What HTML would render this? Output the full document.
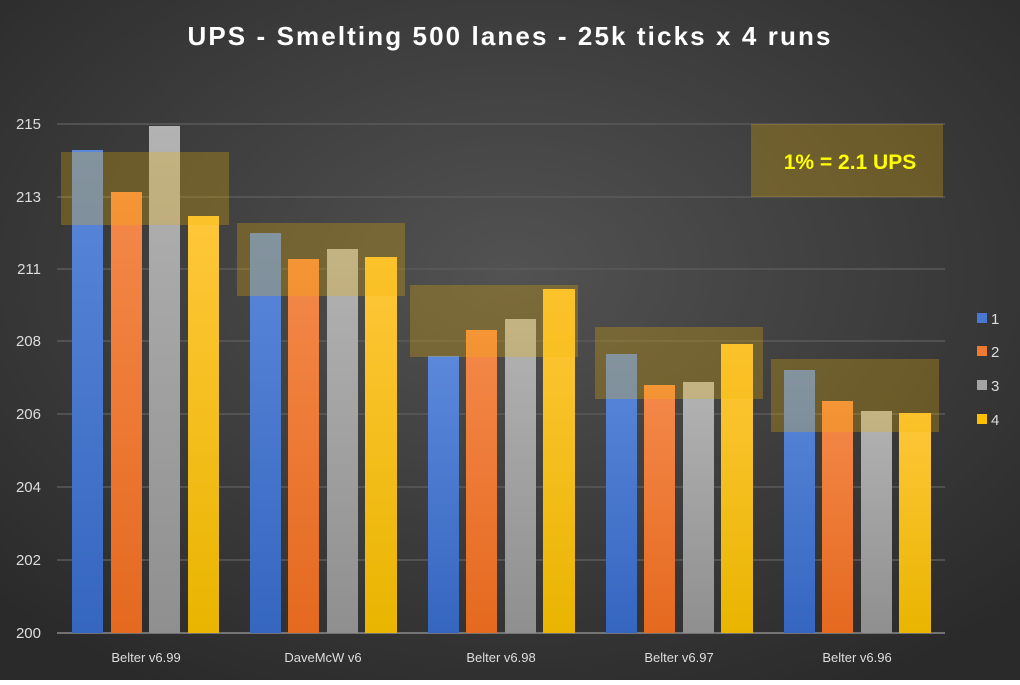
<!DOCTYPE html><html><head><style>body{margin:0;width:1020px;height:680px;overflow:hidden}</style></head><body>
<svg width="1020" height="680" xmlns="http://www.w3.org/2000/svg" font-family="Liberation Sans, sans-serif">
<defs>
<radialGradient id="bg" cx="50%" cy="40%" r="70%"><stop offset="0" stop-color="#525252"/><stop offset="1" stop-color="#2a2a2a"/></radialGradient>
<linearGradient id="b" x1="0" y1="0" x2="0" y2="1"><stop offset="0" stop-color="#5b88da"/><stop offset="1" stop-color="#3566c0"/></linearGradient>
<linearGradient id="o" x1="0" y1="0" x2="0" y2="1"><stop offset="0" stop-color="#f4894a"/><stop offset="1" stop-color="#e5691f"/></linearGradient>
<linearGradient id="g" x1="0" y1="0" x2="0" y2="1"><stop offset="0" stop-color="#b3b3b3"/><stop offset="1" stop-color="#8f8f8f"/></linearGradient>
<linearGradient id="y" x1="0" y1="0" x2="0" y2="1"><stop offset="0" stop-color="#ffc73a"/><stop offset="1" stop-color="#e9b500"/></linearGradient>
</defs>
<rect width="1020" height="680" fill="url(#bg)"/>
<text x="510" y="45" fill="#fff" font-size="26" font-weight="bold" text-anchor="middle" letter-spacing="2.1">UPS - Smelting 500 lanes - 25k ticks x 4 runs</text>
<g stroke="#5a5a5a" stroke-width="1.5">
<line x1="57" x2="945" y1="124" y2="124"/><line x1="57" x2="945" y1="197" y2="197"/><line x1="57" x2="945" y1="269" y2="269"/><line x1="57" x2="945" y1="341" y2="341"/><line x1="57" x2="945" y1="414" y2="414"/><line x1="57" x2="945" y1="487" y2="487"/><line x1="57" x2="945" y1="560" y2="560"/>
</g>
<line x1="57" x2="945" y1="633" y2="633" stroke="#8a8a8a" stroke-width="1.5"/>
<g fill="#ddd" font-size="15" text-anchor="end">
<text x="41" y="129">215</text><text x="41" y="202">213</text><text x="41" y="274">211</text><text x="41" y="346">208</text><text x="41" y="419">206</text><text x="41" y="492">204</text><text x="41" y="565">202</text><text x="41" y="638">200</text>
</g>
<g>
<rect x="72" y="150" width="31" height="483" fill="url(#b)"/><rect x="111" y="192" width="31" height="441" fill="url(#o)"/><rect x="149" y="126" width="31" height="507" fill="url(#g)"/><rect x="188" y="216" width="31" height="417" fill="url(#y)"/>
<rect x="250" y="233" width="31" height="400" fill="url(#b)"/><rect x="288" y="259" width="31" height="374" fill="url(#o)"/><rect x="327" y="249" width="31" height="384" fill="url(#g)"/><rect x="365" y="257" width="32" height="376" fill="url(#y)"/>
<rect x="428" y="356" width="31" height="277" fill="url(#b)"/><rect x="466" y="330" width="31" height="303" fill="url(#o)"/><rect x="505" y="319" width="31" height="314" fill="url(#g)"/><rect x="543" y="289" width="32" height="344" fill="url(#y)"/>
<rect x="606" y="354" width="31" height="279" fill="url(#b)"/><rect x="644" y="385" width="31" height="248" fill="url(#o)"/><rect x="683" y="382" width="31" height="251" fill="url(#g)"/><rect x="721" y="344" width="32" height="289" fill="url(#y)"/>
<rect x="784" y="370" width="31" height="263" fill="url(#b)"/><rect x="822" y="401" width="31" height="232" fill="url(#o)"/><rect x="861" y="411" width="31" height="222" fill="url(#g)"/><rect x="899" y="413" width="32" height="220" fill="url(#y)"/>
</g>
<g fill="rgb(245,180,0)" fill-opacity="0.27">
<rect x="61" y="152" width="168" height="73"/><rect x="237" y="223" width="168" height="73"/><rect x="410" y="285" width="168" height="72"/><rect x="595" y="327" width="168" height="72"/><rect x="771" y="359" width="168" height="73"/>
<rect x="751" y="124" width="192" height="73"/>
</g>
<text x="850" y="169" fill="#ffff00" font-size="21" font-weight="bold" text-anchor="middle">1% = 2.1 UPS</text>
<g fill="#ddd" font-size="13" text-anchor="middle">
<text x="146" y="662">Belter v6.99</text><text x="323" y="662">DaveMcW v6</text><text x="501" y="662">Belter v6.98</text><text x="679" y="662">Belter v6.97</text><text x="857" y="662">Belter v6.96</text>
</g>
<g font-size="15" fill="#ddd">
<rect x="977" y="313" width="10" height="10" fill="#4a78d0"/><text x="991" y="324">1</text>
<rect x="977" y="346" width="10" height="10" fill="#ef7a30"/><text x="991" y="357">2</text>
<rect x="977" y="380" width="10" height="10" fill="#a5a5a5"/><text x="991" y="391">3</text>
<rect x="977" y="414" width="10" height="10" fill="#fbc000"/><text x="991" y="425">4</text>
</g>
</svg>
</body></html>
